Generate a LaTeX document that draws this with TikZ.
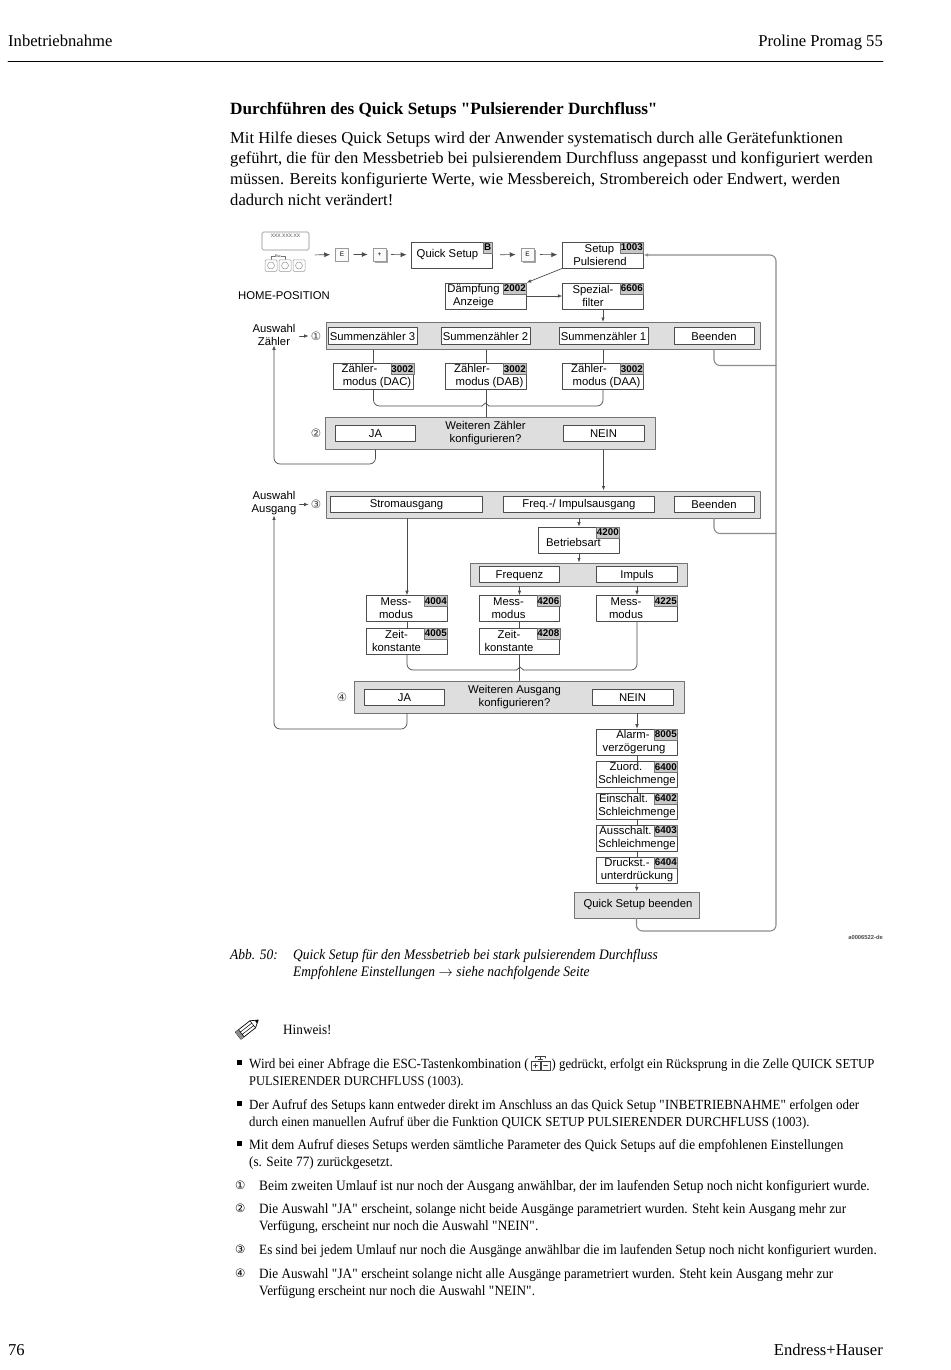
\documentclass[tikz,border=0pt]{standalone}
\usepackage{fontspec}
\setmainfont{Liberation Serif}
\setsansfont{Liberation Sans}
\newfontfamily\symfont{DejaVu Sans}
\newfontfamily\narrowfont[FakeStretch=0.93]{Liberation Serif}
\newcommand{\qmark}{\XeTeXglyph\XeTeXcharglyph"22\relax}
\usetikzlibrary{calc,shadows,arrows.meta}

\begin{document}
\begin{tikzpicture}[x=1pt,y=-1pt,line cap=round,line join=round,>={Latex[length=4.5pt,width=3.5pt]},
    flow/.style={draw=black!70,line width=0.7pt},
    topflow/.style={flow,>={Latex[length=6pt,width=5pt]}},
    retflow/.style={draw=black!45,line width=1.1pt,rounded corners=6pt},
    bandbox/.style={draw=black!55,fill=black!13,line width=1pt,inner sep=0pt,align=center,font=\fontsize{11.3}{13}\selectfont\sffamily},
    choice/.style={draw=black!70,fill=white,line width=0.7pt,inner sep=0pt,minimum height=16.5pt,text height=10pt,text depth=2pt,font=\fontsize{11.3}{13}\selectfont\sffamily},
    parambox/.style={draw=black!70,fill=white,line width=0.7pt,inner sep=0pt,minimum width=80.5pt,minimum height=26pt,align=center,font=\fontsize{11.3}{13}\selectfont\sffamily},
    tagbox/.style={draw=black!55,fill=black!22,line width=0.5pt,inner sep=0pt,minimum width=23pt,minimum height=11pt,anchor=north east,font=\fontsize{9.8}{10}\selectfont\sffamily\bfseries},
    keybox/.style={draw=black!40,fill=black!2,line width=0.5pt,inner sep=0pt,minimum width=13pt,minimum height=13pt,font=\fontsize{6.5}{7}\selectfont\sffamily},
    softkey/.style={draw=black!40,fill=white,line width=0.5pt,rounded corners=1pt,inner sep=0pt,minimum width=12pt,minimum height=11.5pt},
    keyshadow/.style={copy shadow={shadow xshift=1.5pt,shadow yshift=-2pt,fill=black!35,draw=none}},
    lab/.style={inner sep=0pt,align=center,font=\fontsize{11.3}{13}\selectfont\sffamily},
    circ/.style={inner sep=0pt,text=black!75,font=\fontsize{11.5}{13}\selectfont\symfont},
    head/.style={inner sep=0pt,anchor=base west,font=\fontsize{16.6}{18}\selectfont},
    small/.style={inner sep=0pt,anchor=base west,font=\fontsize{14.2}{16}\selectfont\narrowfont},
    numsym/.style={inner sep=0pt,anchor=base west,font=\fontsize{11.5}{13}\selectfont\symfont},
    capt/.style={inner sep=0pt,anchor=base west,font=\fontsize{14.5}{16}\selectfont\narrowfont\itshape}]
  \useasboundingbox (0,0) rectangle (950,1370);
  \fill[white] (0,0) rectangle (950,1370);
  \node[head] (kopfl) at (8,47) {Inbetriebnahme};
  \node[head,anchor=base east] (kopfr) at (883,47) {Proline Promag 55};
  \draw[line width=0.8pt] (8,61) -- (883,61);
  \node[head,font=\fontsize{17.2}{18}\selectfont\bfseries] (titel) at (230,114) {Durchführen des Quick Setups \qmark Pulsierender Durchfluss\qmark};
  \node[head] (introa) at (230,143.5) {Mit Hilfe dieses Quick Setups wird der Anwender systematisch durch alle Gerätefunktionen};
  \node[head] (introb) at (230,164) {geführt, die für den Messbetrieb bei pulsierendem Durchfluss angepasst und konfiguriert werden};
  \node[head] (introc) at (230,184.5) {müssen. Bereits konfigurierte Werte, wie Messbereich, Strombereich oder Endwert, werden};
  \node[head] (introd) at (230,205) {dadurch nicht verändert!};
  \node[draw=black!45,rounded corners=1.5pt,line width=0.6pt,minimum width=47pt,minimum height=18pt] (display) at (285.5,241) {};
  \node[inner sep=0pt,text=black!70,font=\fontsize{5}{5}\selectfont\sffamily] (anzeige) at (285.5,236) {XXX.XXX.XX};
  \node[softkey] (softa) at (271,265.5) {};
  \node[softkey] (softb) at (285,265.5) {};
  \node[softkey] (softc) at (299,265.5) {};
  \draw[black!45,line width=0.5pt] (softa) circle (3.5) (softb) circle (3.5) (softc) circle (3.5);
  \draw[black!55,line width=0.4pt] (softa.north) -- ++(0,-3) -- ++(5,0) (softb.north) -- ++(0,-3) -- ++(-5,0);
  \node[inner sep=0pt,fill=white,font=\fontsize{3.5}{4}\selectfont\sffamily] (esctxt) at (278,256.5) {Esc};
  \coordinate (homeout) at (309,255);
  \node[keybox] (ekeya) at (342,254.5) {E};
  \node[keybox,keyshadow] (pluskey) at (379.5,254.5) {+};
  \node[parambox,minimum width=81pt] (qsetup) at (451.5,255) {\raisebox{-1.5pt}{\hspace*{-8pt}Quick Setup}};
  \node[tagbox,minimum width=9pt] (tagb) at (qsetup.north east) {B};
  \node[keybox,keyshadow] (ekeyb) at (527.5,254.5) {E};
  \node[parambox] (setup) at (603,255) {Setup\hspace*{7pt}\\Pulsierend\hspace*{6pt}};
  \node[tagbox] (tagsetup) at (setup.north east) {1003};
  \draw[topflow,->,shorten >=5pt,shorten <=6pt] (homeout) -- (ekeya);
  \draw[topflow,->,shorten >=5pt,shorten <=5pt] (ekeya) -- (pluskey);
  \draw[topflow,->,shorten >=4pt,shorten <=5pt] (pluskey) -- (qsetup);
  \draw[topflow,->,shorten >=5pt,shorten <=8pt] (qsetup) -- (ekeyb);
  \draw[topflow,->,shorten >=5pt,shorten <=6pt] (ekeyb) -- (setup);
  \node[lab] (homepos) at (284,296) {HOME-POSITION};
  \node[parambox] (daempf) at (486,296) {Dämpfung\hspace*{25pt}\\Anzeige\hspace*{25pt}};
  \node[tagbox] (tagdaempf) at (daempf.north east) {2002};
  \node[parambox] (spezial) at (603,296) {Spezial-\hspace*{20pt}\\filter\hspace*{20pt}};
  \node[tagbox] (tagspezial) at (spezial.north east) {6606};
  \draw[flow,->] (setup.south west) -- (daempf.north east);
  \draw[flow,->] (daempf) -- (spezial);
  \node[bandbox,minimum width=434pt,minimum height=27pt] (banda) at (543,336) {};
  \draw[flow,->] (spezial) -- (spezial |- banda.north);
  \node[choice,minimum width=89pt] (suma) at (372.5,336) {Summenzähler 3};
  \node[choice,minimum width=89pt] (sumb) at (485.5,336) {Summenzähler 2};
  \node[choice,minimum width=89pt] (sumc) at (603.5,336) {Summenzähler 1};
  \node[choice,minimum width=80pt] (endea) at (714,336) {Beenden};
  \node[lab] (auswahla) at (274,334.5) {Auswahl\\Zähler};
  \node[circ] (markea) at (316,336) {①};
  \draw[flow,->,shorten <=4pt,shorten >=2pt] (auswahla.east |- markea) -- (markea);
  \node[parambox] (dac) at (373.5,376.5) {Zähler-\hspace*{28pt}\\\hspace*{7pt}modus (DAC)};
  \node[tagbox] (tagdac) at (dac.north east) {3002};
  \node[parambox] (dab) at (486,376.5) {Zähler-\hspace*{28pt}\\\hspace*{7pt}modus (DAB)};
  \node[tagbox] (tagdab) at (dab.north east) {3002};
  \node[parambox] (daa) at (603,376.5) {Zähler-\hspace*{28pt}\\\hspace*{7pt}modus (DAA)};
  \node[tagbox] (tagdaa) at (daa.north east) {3002};
  \draw[flow] (dac.north) -- (dac.north |- banda.south);
  \draw[flow] (dab.north) -- (dab.north |- banda.south);
  \draw[flow] (daa.north) -- (daa.north |- banda.south);
  \node[bandbox,minimum width=329.5pt,minimum height=31.5pt] (bandb) at (490.5,433.5) {};
  \node[choice,minimum width=80pt] (jaa) at (375.5,433.5) {JA};
  \node[choice,minimum width=81pt] (neina) at (603.5,433.5) {NEIN};
  \node[lab] (fragea) at (485.5,433) {Weiteren Zähler\\konfigurieren?};
  \node[circ] (markeb) at (316,433.5) {②};
  \coordinate (zaehlm) at (485.5,403);
  \coordinate (zaehll) at (482,406);
  \coordinate (zaehlr) at (489,406);
  \draw[flow] (dab.south) -- (dab.south |- bandb.north);
  \draw[flow,rounded corners=6pt] (dac.south) |- (zaehll);
  \draw[flow] (zaehll) -- (zaehlm) -- (zaehlr);
  \draw[flow,rounded corners=6pt] (daa.south) |- (zaehlr);
  \coordinate (rueckza) at (274,464);
  \draw[flow,->,rounded corners=6pt] (jaa.south |- bandb.south) |- (rueckza) -- (auswahla.south -| rueckza);
  \node[bandbox,minimum width=434pt,minimum height=27pt] (bandc) at (543,504.5) {};
  \draw[flow,->] (neina |- bandb.south) -- (neina |- bandc.north);
  \node[choice,minimum width=151.5pt] (strom) at (406.5,504.5) {\raisebox{1pt}{Stromausgang}};
  \node[choice,minimum width=151pt] (freq) at (579,504.5) {\raisebox{1pt}{Freq.-/ Impulsausgang}};
  \node[choice,minimum width=80pt] (endeb) at (714,504.5) {Beenden};
  \node[lab] (auswahlb) at (274,503.5) {Auswahl\\Ausgang};
  \node[circ] (markec) at (316,504.5) {③};
  \draw[flow,->,shorten <=3pt,shorten >=2pt] (auswahlb.east |- markec) -- (markec);
  \node[parambox] (betrieb) at (579,540) {\\Betriebsart\hspace*{11pt}};
  \node[tagbox] (tagbetrieb) at (betrieb.north east) {4200};
  \draw[flow,->] (freq |- bandc.south) -- (betrieb);
  \node[bandbox,minimum width=217pt,minimum height=23pt] (bandd) at (578.5,574.5) {};
  \node[choice,minimum width=80.5pt] (frequ) at (519.5,574.5) {Frequenz};
  \node[choice,minimum width=80.5pt] (impuls) at (637,574.5) {Impuls};
  \draw[flow,->] (betrieb) -- (betrieb |- bandd.north);
  \node[parambox] (messa) at (407,608.5) {Mess-\hspace*{22pt}\\modus\hspace*{22pt}};
  \node[tagbox] (tagmessa) at (messa.north east) {4004};
  \node[parambox] (zeita) at (407,641) {Zeit-\hspace*{21pt}\\konstante\hspace*{21pt}};
  \node[tagbox] (tagzeita) at (zeita.north east) {4005};
  \node[parambox] (messb) at (519.5,608.5) {Mess-\hspace*{22pt}\\modus\hspace*{22pt}};
  \node[tagbox] (tagmessb) at (messb.north east) {4206};
  \node[parambox] (zeitb) at (519.5,641) {Zeit-\hspace*{21pt}\\konstante\hspace*{21pt}};
  \node[tagbox] (tagzeitb) at (zeitb.north east) {4208};
  \node[parambox] (messc) at (637,608.5) {Mess-\hspace*{22pt}\\modus\hspace*{22pt}};
  \node[tagbox] (tagmessc) at (messc.north east) {4225};
  \draw[flow,->] (messa |- bandc.south) -- (messa.north);
  \draw[flow,->] (frequ |- bandd.south) -- (messb.north);
  \draw[flow,->] (impuls |- bandd.south) -- (messc.north);
  \draw[flow] (messa) -- (zeita);
  \draw[flow] (messb) -- (zeitb);
  \node[bandbox,minimum width=330pt,minimum height=32pt] (bande) at (519.5,697) {};
  \node[choice,minimum width=80pt] (jab) at (404.5,697.5) {JA};
  \node[choice,minimum width=81pt] (neinb) at (632.5,697.5) {NEIN};
  \node[lab] (frageb) at (514.5,697) {Weiteren Ausgang\\konfigurieren?};
  \node[circ] (marked) at (342,697.5) {④};
  \coordinate (ausgm) at (520,667);
  \coordinate (ausgl) at (516.5,670);
  \coordinate (ausgr) at (523.5,670);
  \draw[flow] (zeitb.south) -- (zeitb.south |- bande.north);
  \draw[flow,rounded corners=6pt] (zeita.south) |- (ausgl);
  \draw[flow] (ausgl) -- (ausgm) -- (ausgr);
  \draw[flow,rounded corners=6pt] (messc.south) |- (ausgr);
  \coordinate (rueckzb) at (274,729);
  \draw[flow,->,rounded corners=6pt] (messa.south |- bande.south) |- (rueckzb) -- (auswahlb.south -| rueckzb);
  \node[parambox] (alarm) at (637,742) {\hspace*{12pt}Alarm-\hspace*{20pt}\\verzögerung\hspace*{6pt}};
  \node[tagbox] (tagalarm) at (alarm.north east) {8005};
  \node[parambox] (zuord) at (637,774.5) {Zuord.\hspace*{22pt}\\Schleichmenge};
  \node[tagbox] (tagzuord) at (zuord.north east) {6400};
  \node[parambox] (einsch) at (637,806) {Einschalt.\hspace*{27pt}\\Schleichmenge};
  \node[tagbox] (tageinsch) at (einsch.north east) {6402};
  \node[parambox] (aussch) at (637,838) {Ausschalt.\hspace*{23pt}\\Schleichmenge};
  \node[tagbox] (tagaussch) at (aussch.north east) {6403};
  \node[parambox] (druck) at (637,870) {Druckst.-\hspace*{20pt}\\unterdrückung};
  \node[tagbox] (tagdruck) at (druck.north east) {6404};
  \node[bandbox,minimum width=125pt,minimum height=26pt] (qsende) at (636.5,905) {\hspace*{3pt}Quick Setup beenden};
  \draw[flow,->] (alarm |- bande.south) -- (alarm.north);
  \draw[flow] (alarm) -- (zuord);
  \draw[flow] (zuord) -- (einsch);
  \draw[flow] (einsch) -- (aussch);
  \draw[flow] (aussch) -- (druck);
  \draw[flow,->] (druck) -- (qsende);
  \coordinate (rueckunten) at (776,931);
  \coordinate (rueckoben) at (776,255);
  \draw[retflow,->] (qsende.south) |- (rueckunten) -- (rueckoben) -- (setup.east);
  \draw[retflow] (endea.south |- banda.south) |- (776,365.5);
  \draw[retflow] (endeb.south |- bandc.south) |- (776,533.5);
  \node[inner sep=0pt,anchor=base east,font=\fontsize{5.8}{7}\selectfont\sffamily\bfseries,text=black!70] (bildnr) at (883,939) {a0006522-de};
  \node[capt] (capta) at (230,959) {Abb. 50:};
  \node[capt] (captb) at (293,959) {Quick Setup für den Messbetrieb bei stark pulsierendem Durchfluss};
  \node[capt] (captc) at (293,976) {Empfohlene Einstellungen {\normalfont$\rightarrow$} siehe nachfolgende Seite};
  \begin{scope}[rotate around={38:(248,1028)}]
    \draw[line width=0.7pt,fill=white] (235.5,1023.5) -- (254,1023.5) -- (261,1028) -- (254,1032.5) -- (235.5,1032.5) -- cycle;
    \fill[black!45] (235.5,1023.5) rectangle (239.5,1032.5);
    \draw[line width=0.5pt] (239.5,1023.5) -- (239.5,1032.5) (254,1023.5) -- (254,1032.5) (239.5,1026.5) -- (254,1026.5) (239.5,1029.5) -- (254,1029.5);
    \fill (258,1026.1) -- (261,1028) -- (258,1029.9) -- cycle;
  \end{scope}
  \node[small] (hinweis) at (283,1034) {Hinweis!};
  \fill (237,1060) rectangle (242,1065);
  \node[small,font=\fontsize{14.05}{16}\selectfont\narrowfont] (wirda) at (249,1068) {Wird bei einer Abfrage die ESC-Tastenkombination (};
  \draw[black!75,line width=0.5pt] (535.5,1058) -- (535.5,1056) -- (545,1056) -- (545,1058) (531,1061) rectangle (540,1070) (541,1061) rectangle (550,1070);
  \draw[black!75,line width=0.5pt] (538,1059) -- (542.5,1059) (540.2,1056.5) -- (540.2,1059) (533.5,1065.5) -- (537.5,1065.5) (535.5,1063.5) -- (535.5,1067.5) (543.5,1065.5) -- (547.5,1065.5);
  \node[small,font=\fontsize{13.7}{16}\selectfont\narrowfont] (wirdb) at (551.5,1068) {) gedrückt, erfolgt ein Rücksprung in die Zelle QUICK SETUP};
  \node[small,font=\fontsize{13.33}{16}\selectfont\narrowfont] (wirdc) at (249,1085) {PULSIERENDER DURCHFLUSS (1003).};
  \fill (237,1101) rectangle (242,1106);
  \node[small,font=\fontsize{13.97}{16}\selectfont\narrowfont] (aufrufa) at (249,1109) {Der Aufruf des Setups kann entweder direkt im Anschluss an das Quick Setup \qmark INBETRIEBNAHME\qmark{} erfolgen oder};
  \node[small,font=\fontsize{13.78}{16}\selectfont\narrowfont] (aufrufb) at (249,1126) {durch einen manuellen Aufruf über die Funktion QUICK SETUP PULSIERENDER DURCHFLUSS (1003).};
  \fill (237,1141) rectangle (242,1146);
  \node[small] (mita) at (249,1149) {Mit dem Aufruf dieses Setups werden sämtliche Parameter des Quick Setups auf die empfohlenen Einstellungen};
  \node[small] (mitb) at (249,1166) {(s. Seite 77) zurückgesetzt.};
  \node[numsym] (nra) at (235,1189) {①};
  \node[small,font=\fontsize{14.34}{16}\selectfont\narrowfont] (nrat) at (259,1190) {Beim zweiten Umlauf ist nur noch der Ausgang anwählbar, der im laufenden Setup noch nicht konfiguriert wurde.};
  \node[numsym] (nrb) at (235,1212) {②};
  \node[small] (nrbt) at (259,1213) {Die Auswahl \qmark JA\qmark{} erscheint, solange nicht beide Ausgänge parametriert wurden. Steht kein Ausgang mehr zur};
  \node[small] (nrbu) at (259,1230) {Verfügung, erscheint nur noch die Auswahl \qmark NEIN\qmark.};
  \node[numsym] (nrc) at (235,1253) {③};
  \node[small] (nrct) at (259,1254) {Es sind bei jedem Umlauf nur noch die Ausgänge anwählbar die im laufenden Setup noch nicht konfiguriert wurden.};
  \node[numsym] (nrd) at (235,1277) {④};
  \node[small] (nrdt) at (259,1278) {Die Auswahl \qmark JA\qmark{} erscheint solange nicht alle Ausgänge parametriert wurden. Steht kein Ausgang mehr zur};
  \node[small] (nrdu) at (259,1295) {Verfügung erscheint nur noch die Auswahl \qmark NEIN\qmark.};
  \node[head] (seite) at (8,1355) {76};
  \node[head,anchor=base east] (firma) at (883,1355) {Endress+Hauser};
\end{tikzpicture}
\end{document}
